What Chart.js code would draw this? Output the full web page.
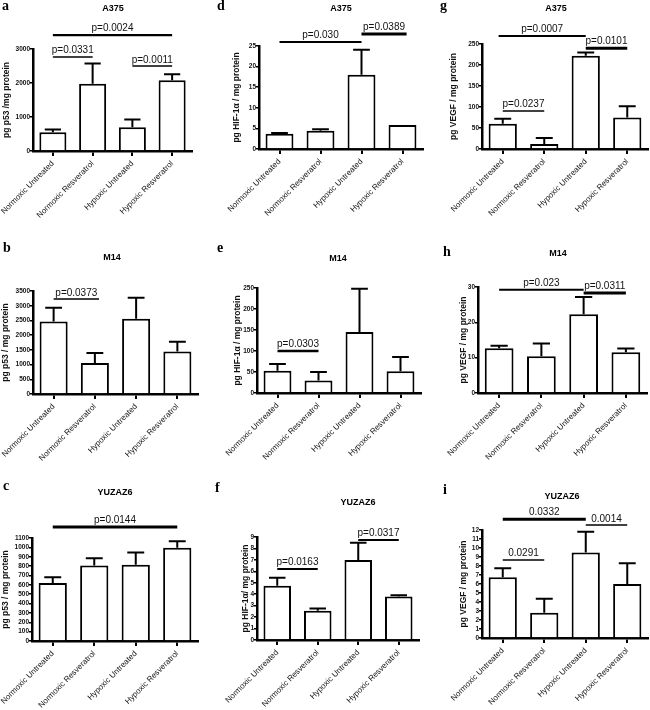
<!DOCTYPE html>
<html lang="en">
<head>
<meta charset="UTF-8"/>
<title>p53, HIF-1α and VEGF in melanoma cells</title>
<script src="https://cdn.jsdelivr.net/npm/chart.js"></script>
<style>
  body { margin: 0; background: #fff; }
  #fig { position: relative; width: 650px; height: 710px; overflow: hidden; }
  #fig canvas { position: absolute; }
  .letter { position: absolute; font: bold 14px "Liberation Serif", serif; line-height: 14px; }
  .ttl { position: absolute; font: bold 9px "Liberation Sans", Arial, sans-serif; transform: translate(-50%, -50%); white-space: nowrap; }
</style>
</head>
<body>
<div id="fig"></div>
<script>
const categories = ['Normoxic Untreated', 'Normoxic Resveratrol', 'Hypoxic Untreated', 'Hypoxic Resveratrol'];

// p53 (pg / mg protein)
const p53A375 = [550, 1980, 700, 2080];
const p53A375Err = [80, 590, 230, 180];
const p53A375Ticks = [0, 1000, 2000, 3000];
const p53M14 = [2460, 1050, 2560, 1445];
const p53M14Err = [475, 340, 710, 330];
const p53M14Ticks = [0, 500, 1000, 1500, 2000, 2500, 3000, 3500];
const p53Yuzaz6 = [620, 805, 815, 995];
const p53Yuzaz6Err = [62, 80, 130, 70];
const p53Yuzaz6Ticks = [0, 100, 200, 300, 400, 500, 600, 700, 800, 900, 1000, 1100];

// HIF-1α
const hifA375 = [3.7, 4.4, 18.0, 5.8];
const hifA375Err = [0.2, 0.4, 6.1, 0];
const hifA375Ticks = [0, 5, 10, 15, 20, 25];
const hifM14 = [53, 30, 145, 52];
const hifM14Err = [16, 20, 103, 34];
const hifM14Ticks = [0, 50, 100, 150, 200, 250];
const hifYuzaz6 = [4.75, 2.55, 7.0, 3.8];
const hifYuzaz6Err = [0.7, 0.2, 1.5, 0.1];
const hifYuzaz6Ticks = [0, 1, 2, 3, 4, 5, 6, 7, 8, 9];

// VEGF
const vegfA375 = [60, 12, 222, 75];
const vegfA375Err = [12, 14, 8, 27];
const vegfA375Ticks = [0, 50, 100, 150, 200, 250];
const vegfM14 = [12.7, 10.4, 22.3, 11.5];
const vegfM14Err = [0.7, 3.6, 4.9, 1.1];
const vegfM14Ticks = [0, 10, 20, 30];
const vegfYuzaz6 = [6.75, 2.8, 9.5, 6.0];
const vegfYuzaz6Err = [1.0, 1.55, 2.3, 2.3];
const vegfYuzaz6Ticks = [0, 1, 2, 3, 4, 5, 6, 7, 8, 9, 10, 11, 12];

// significance bars: [from bar, to bar, height (data units), label, line width]
const p53A375P = [[0, 3, 3410, 'p=0.0024', 2.2], [0, 1, 2765, 'p=0.0331', 1.5], [2, 3, 2500, 'p=0.0011', 1.5]];
const p53M14P = [[0, 1.1, 3228, 'p=0.0373', 1.5]];
const p53Yuzaz6P = [[0, 3, 1217, 'p=0.0144', 3]];
const hifA375P = [[0, 2, 26, 'p=0.030', 2], [2, 3.1, 27.9, 'p=0.0389', 3]];
const hifM14P = [[0, 1, 100, 'p=0.0303', 2.5]];
const hifYuzaz6P = [[0, 1, 6.2, 'p=0.0163', 2], [2, 3, 8.74, 'p=0.0317', 2]];
const vegfA375P = [[-0.1, 2, 269, 'p=0.0007', 2], [2, 3, 240, 'p=0.0101', 3], [0, 1, 90.5, 'p=0.0237', 1.5]];
const vegfM14P = [[0, 2, 29.2, 'p=0.023', 2], [2, 3, 28.3, 'p=0.0311', 3]];
const vegfYuzaz6P = [[0, 2, 13.2, '0.0332', 3], [2, 3, 12.55, '0.0014', 1.5], [0, 1, 8.67, '0.0291', 1.5]];

const panels = [
  { id: 'a', cell: 'A375', yTitle: 'pg p53 /mg protein', means: p53A375, err: p53A375Err, ticks: p53A375Ticks, sig: p53A375P },
  { id: 'b', cell: 'M14', yTitle: 'pg p53 / mg protein', means: p53M14, err: p53M14Err, ticks: p53M14Ticks, sig: p53M14P },
  { id: 'c', cell: 'YUZAZ6', yTitle: 'pg p53 / mg protein', means: p53Yuzaz6, err: p53Yuzaz6Err, ticks: p53Yuzaz6Ticks, sig: p53Yuzaz6P },
  { id: 'd', cell: 'A375', yTitle: 'pg HIF-1α / mg protein', means: hifA375, err: hifA375Err, ticks: hifA375Ticks, sig: hifA375P },
  { id: 'e', cell: 'M14', yTitle: 'pg HIF-1α / mg protein', means: hifM14, err: hifM14Err, ticks: hifM14Ticks, sig: hifM14P },
  { id: 'f', cell: 'YUZAZ6', yTitle: 'pg HIF-1α/ mg protein', means: hifYuzaz6, err: hifYuzaz6Err, ticks: hifYuzaz6Ticks, sig: hifYuzaz6P },
  { id: 'g', cell: 'A375', yTitle: 'pg VEGF / mg protein', means: vegfA375, err: vegfA375Err, ticks: vegfA375Ticks, sig: vegfA375P },
  { id: 'h', cell: 'M14', yTitle: 'pg VEGF / mg protein', means: vegfM14, err: vegfM14Err, ticks: vegfM14Ticks, sig: vegfM14P },
  { id: 'i', cell: 'YUZAZ6', yTitle: 'pg VEGF / mg protein', means: vegfYuzaz6, err: vegfYuzaz6Err, ticks: vegfYuzaz6Ticks, sig: vegfYuzaz6P }
];

// canvas box, padding, axis sizes, and where the letter / cell title sit
const boxes = {
  a: { x: 0, y: 0, w: 215, h: 230, pl: 2, yw: 31, pr: 23, pt: 49, xh: 79, lx: 2, ly: -1, tx: 113, ty: 8 },
  d: { x: 215, y: 0, w: 215, h: 230, pl: 17, yw: 27, pr: 7, pt: 46, xh: 81, lx: 217, ly: -1, tx: 341, ty: 8 },
  g: { x: 430, y: 0, w: 220, h: 230, pl: 19, yw: 33, pr: 2, pt: 44, xh: 81, lx: 440, ly: -1, tx: 556, ty: 8 },
  b: { x: 0, y: 230, w: 215, h: 240, pl: 1, yw: 32, pr: 17, pt: 61, xh: 76, lx: 3, ly: 241, tx: 112, ty: 257 },
  e: { x: 215, y: 230, w: 215, h: 240, pl: 18, yw: 24, pr: 9, pt: 58, xh: 77, lx: 217, ly: 241, tx: 338, ty: 258 },
  h: { x: 430, y: 230, w: 220, h: 240, pl: 29, yw: 19, pr: 3, pt: 57, xh: 77, lx: 443, ly: 245, tx: 558, ty: 253 },
  c: { x: 0, y: 470, w: 215, h: 240, pl: 1, yw: 31, pr: 17, pt: 68, xh: 69, lx: 3, ly: 479, tx: 115, ty: 492 },
  f: { x: 215, y: 470, w: 215, h: 240, pl: 26, yw: 16, pr: 11, pt: 67, xh: 70, lx: 215, ly: 481, tx: 358, ty: 502 },
  i: { x: 430, y: 470, w: 220, h: 240, pl: 29, yw: 23, pr: 2, pt: 60, xh: 72, lx: 443, ly: 483, tx: 562, ty: 496 }
};

const FONT = '"Liberation Sans", Arial, sans-serif';
const fig = document.getElementById('fig');

// error whiskers (upper only) and significance bars
function marksPlugin(p) {
  return {
    id: 'marks',
    afterDatasetsDraw(chart) {
      const ctx = chart.ctx;
      const xs = chart.scales.x, ys = chart.scales.y;
      const bars = chart.getDatasetMeta(0).data;
      ctx.save();
      ctx.strokeStyle = '#000';
      ctx.lineWidth = 2;
      bars.forEach((el, i) => {
        if (!p.err[i]) return;
        const top = ys.getPixelForValue(p.means[i] + p.err[i]);
        const cap = el.width * 0.3;
        ctx.beginPath();
        ctx.moveTo(el.x, el.y);
        ctx.lineTo(el.x, top);
        ctx.moveTo(el.x - cap, top);
        ctx.lineTo(el.x + cap, top);
        ctx.stroke();
      });
      ctx.font = '10px ' + FONT;
      ctx.fillStyle = '#111';
      ctx.textAlign = 'center';
      ctx.textBaseline = 'bottom';
      p.sig.forEach(([a, b, v, text, lw]) => {
        const x1 = xs.getPixelForValue(a), x2 = xs.getPixelForValue(b);
        const y = ys.getPixelForValue(v);
        ctx.lineWidth = lw;
        ctx.beginPath();
        ctx.moveTo(x1, y);
        ctx.lineTo(x2, y);
        ctx.stroke();
        ctx.fillText(text, (x1 + x2) / 2, y - lw / 2 - 0.5);
      });
      ctx.restore();
    }
  };
}

panels.forEach(p => {
  const b = boxes[p.id];
  const cv = document.createElement('canvas');
  cv.style.left = b.x + 'px';
  cv.style.top = b.y + 'px';
  cv.style.width = b.w + 'px';
  cv.style.height = b.h + 'px';
  cv.width = b.w;
  cv.height = b.h;
  fig.appendChild(cv);

  const letter = document.createElement('div');
  letter.className = 'letter';
  letter.style.left = b.lx + 'px';
  letter.style.top = b.ly + 'px';
  letter.textContent = p.id;
  fig.appendChild(letter);

  const ttl = document.createElement('div');
  ttl.className = 'ttl';
  ttl.style.left = b.tx + 'px';
  ttl.style.top = b.ty + 'px';
  ttl.textContent = p.cell;
  fig.appendChild(ttl);

  const tickVals = p.ticks;
  new Chart(cv, {
    type: 'bar',
    data: {
      labels: categories,
      datasets: [{
        data: p.means,
        backgroundColor: '#fff',
        borderColor: '#000',
        borderWidth: 2,
        barPercentage: 0.68,
        categoryPercentage: 1
      }]
    },
    options: {
      responsive: false,
      animation: false,
      events: [],
      layout: { padding: { left: b.pl, right: b.pr, top: b.pt, bottom: 0 } },
      plugins: { legend: { display: false }, tooltip: { enabled: false } },
      scales: {
        x: {
          grid: { display: true, drawOnChartArea: false, drawTicks: true, tickLength: 5, offset: false, color: '#000', lineWidth: 2 },
          border: { display: true, color: '#000', width: 2.5 },
          ticks: { autoSkip: false, minRotation: 45, maxRotation: 45, padding: 3, color: '#111', font: { family: FONT, size: 8 } },
          afterFit: s => { s.height = b.xh; s.paddingLeft = 0; s.paddingRight = 0; }
        },
        y: {
          min: tickVals[0],
          max: tickVals[tickVals.length - 1],
          afterBuildTicks: s => { s.ticks = tickVals.map(v => ({ value: v })); },
          grid: { display: true, drawOnChartArea: false, drawTicks: true, tickLength: 3, color: '#000', lineWidth: 1.5 },
          border: { display: true, color: '#000', width: 2.5 },
          ticks: { autoSkip: false, padding: 0, color: '#111', font: { family: FONT, size: 6.5, weight: 'bold' }, callback: v => String(v) },
          title: { display: true, text: p.yTitle, color: '#111', padding: 0, font: { family: FONT, size: 8.5, weight: 'bold' } },
          afterFit: s => { s.width = b.yw; s.paddingTop = 0; s.paddingBottom = 0; }
        }
      }
    },
    plugins: [marksPlugin(p)]
  });
});
</script>
</body>
</html>
